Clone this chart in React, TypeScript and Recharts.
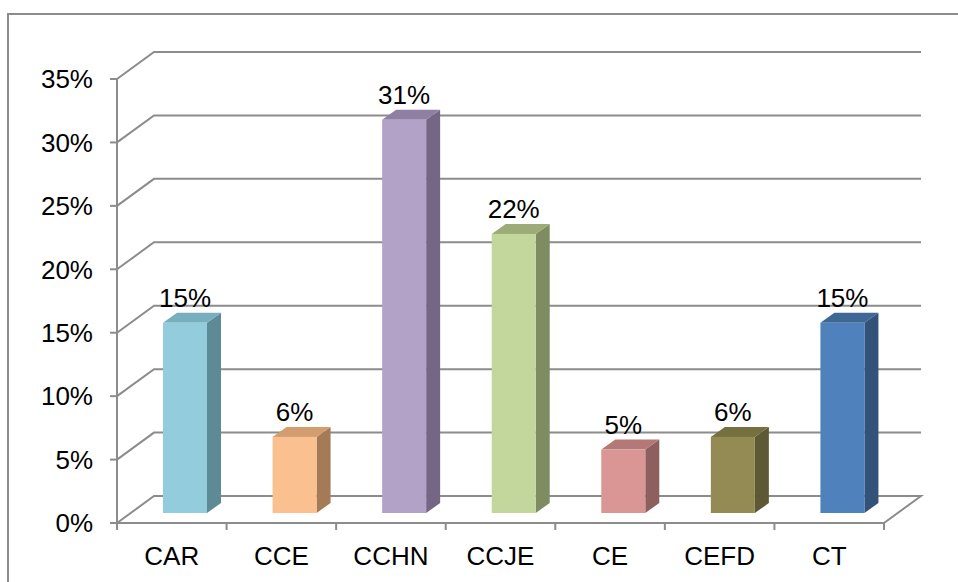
import React from 'react';
import { BarChart, Bar, XAxis, YAxis, CartesianGrid, LabelList } from 'recharts';

const categories = ['CAR', 'CCE', 'CCHN', 'CCJE', 'CE', 'CEFD', 'CT'];
const shares = [15, 6, 31, 22, 5, 6, 15];
const yTicks = [0, 5, 10, 15, 20, 25, 30, 35];

const frontColors = ['#93CDDD', '#FAC090', '#B3A2C7', '#C3D69B', '#D99694', '#948A54', '#4F81BD'];
const topColors = ['#78AFBE', '#D39D70', '#8F80A3', '#9CAB78', '#B47877', '#76703F', '#3E6796'];
const sideColors = ['#5E8A96', '#A57A56', '#746684', '#7F8B60', '#8D5F5E', '#5E5834', '#32527A'];

const data = categories.map((name, i) => ({ name, share: shares[i] }));

const WIDTH = 958;
const HEIGHT = 582;
const MARGIN = { top: 79, right: 74, left: 0, bottom: 0 };
const Y_AXIS_WIDTH = 117;
const X_AXIS_HEIGHT = 59;
const PLOT_BOTTOM = HEIGHT - MARGIN.bottom - X_AXIS_HEIGHT;
const BAND = (WIDTH - MARGIN.left - MARGIN.right - Y_AXIS_WIDTH) / categories.length;

const GRID = '#8c8c8c';
const FONT = '"Liberation Sans", Arial, sans-serif';

// fake 3d: back wall offset, bar placement inside the depth, bar thickness
const WALL_DX = 37;
const WALL_DY = -27;
const BAR_DX = 13;
const BAR_DY = -10;
const DEPTH_DX = 14;
const DEPTH_DY = -10;

const renderGridLine = (props: any) => {
  const { x1, y1, x2, key } = props;
  let d = `M${x1},${y1} L${x1 + WALL_DX},${y1 + WALL_DY} L${x2 + WALL_DX},${y1 + WALL_DY}`;
  if (Math.abs(y1 - PLOT_BOTTOM) < 1) d += ` L${x2},${y1}`; // floor edge
  return <path key={key} d={d} stroke={GRID} strokeWidth={2} fill="none" />;
};

const Bar3D = (props: any) => {
  const { x, y, width, height, index } = props;
  if (!height || height <= 0) return null;
  const fx = x + BAR_DX;
  const fy = y + BAR_DY;
  const top = `${fx},${fy} ${fx + DEPTH_DX},${fy + DEPTH_DY} ${fx + width + DEPTH_DX},${fy + DEPTH_DY} ${fx + width},${fy}`;
  const side = `${fx + width},${fy} ${fx + width + DEPTH_DX},${fy + DEPTH_DY} ${fx + width + DEPTH_DX},${fy + height + DEPTH_DY} ${fx + width},${fy + height}`;
  return (
    <g>
      <polygon points={side} fill={sideColors[index]} />
      <polygon points={top} fill={topColors[index]} />
      <rect x={fx} y={fy} width={width} height={height} fill={frontColors[index]} />
    </g>
  );
};

const renderValueLabel = (props: any) => {
  const { x, y, width, value } = props;
  return (
    <text x={x + width / 2 + BAR_DX} y={y + BAR_DY - 16} textAnchor="middle" fontSize={26} fontFamily={FONT} fill="#000">
      {value}%
    </text>
  );
};

const XTick = (props: any) => {
  const { x, y, payload, index } = props;
  const last = index === categories.length - 1;
  return (
    <g>
      <line x1={x - BAND / 2} y1={y} x2={x - BAND / 2} y2={y + 7} stroke={GRID} strokeWidth={2} />
      {last && <line x1={x + BAND / 2} y1={y} x2={x + BAND / 2} y2={y + 7} stroke={GRID} strokeWidth={2} />}
      <text x={x} y={y + 42} textAnchor="middle" fontSize={26} fontFamily={FONT} fill="#000">
        {payload.value}
      </text>
    </g>
  );
};

const App: React.FC = () => {
  return (
    <div style={{ position: 'absolute', left: 0, top: 0, width: WIDTH, height: HEIGHT, background: '#fff', overflow: 'hidden' }}>
      <div
        style={{
          position: 'absolute',
          left: 7,
          top: 13,
          width: WIDTH,
          height: HEIGHT,
          borderTop: `2px solid ${GRID}`,
          borderLeft: `2px solid ${GRID}`,
        }}
      />
      <div style={{ position: 'absolute', left: 0, top: 0 }}>
        <BarChart width={WIDTH} height={HEIGHT} data={data} margin={MARGIN}>
          <CartesianGrid vertical={false} horizontal={renderGridLine} />
          <XAxis
            dataKey="name"
            height={X_AXIS_HEIGHT}
            interval={0}
            tickSize={0}
            tickMargin={0}
            tickLine={false}
            axisLine={{ stroke: GRID, strokeWidth: 2 }}
            tick={<XTick />}
          />
          <YAxis
            width={Y_AXIS_WIDTH}
            domain={[0, 35]}
            ticks={yTicks}
            interval={0}
            tickSize={7}
            tickMargin={17}
            tickFormatter={(v) => `${v}%`}
            axisLine={{ stroke: GRID, strokeWidth: 2 }}
            tickLine={{ stroke: GRID, strokeWidth: 2 }}
            tick={{ fill: '#000', fontSize: 26, fontFamily: FONT }}
          />
          <Bar dataKey="share" barSize={44} shape={<Bar3D />} isAnimationActive={false}>
            <LabelList dataKey="share" content={renderValueLabel} />
          </Bar>
        </BarChart>
      </div>
    </div>
  );
};

export default App;
